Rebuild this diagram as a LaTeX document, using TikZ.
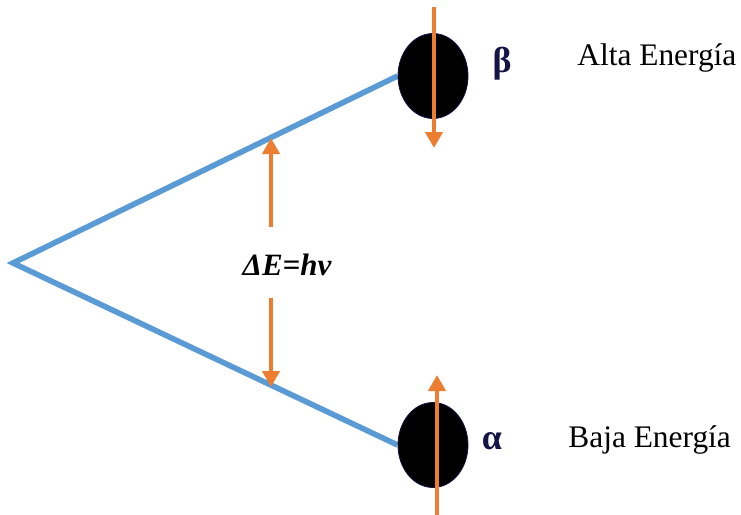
\documentclass[tikz,border=0pt]{standalone}
\usepackage{fontspec}
\setmainfont{Liberation Serif}
\usetikzlibrary{arrows.meta,shapes.geometric,backgrounds}
\definecolor{bond}{RGB}{91,155,213}
\definecolor{spin}{RGB}{237,125,49}
\definecolor{ink}{RGB}{20,20,70}

\begin{document}
\begin{tikzpicture}[x=0.5pt,y=-0.5pt,
    orb/.style={ellipse,draw=ink,fill=black,minimum width=35pt,minimum height=42.5pt,inner sep=0pt},
    spinarrow/.style={spin,line width=2pt,-{Triangle[width=8.5pt,length=8pt]}},
    greek/.style={text=ink,font=\bfseries\fontsize{18}{20}\selectfont}]
  \useasboundingbox (0,0) rectangle (741,515);
  \coordinate (v) at (13,263);
  \node[orb] (beta) at (433,76) {};
  \node[orb] (alpha) at (433,445) {};
  \begin{scope}[on background layer]
    \draw[bond,line width=2.8pt] (beta.west) -- (v) -- (alpha.west);
  \end{scope}
  % spins
  \coordinate (bs) at (434,7);
  \coordinate (be) at (434,148);
  \coordinate (as) at (437,515);
  \coordinate (ae) at (437,375);
  \draw[spinarrow] (bs) -- (be);
  \draw[spinarrow] (as) -- (ae);
  \node[greek] (b) at (502,64) {β};
  \node[greek] (a) at (492,441) {α};
  % energy gap
  \node[font=\bfseries\itshape\fontsize{15.5}{17}\selectfont] (de) at (287,265) {ΔE=hν};
  \coordinate (up1) at (271,227);
  \coordinate (up2) at (271,138);
  \coordinate (dn1) at (271,298);
  \coordinate (dn2) at (271,387);
  \draw[spinarrow] (up1) -- (up2);
  \draw[spinarrow] (dn1) -- (dn2);
  \node[anchor=base west,inner sep=0pt,font=\fontsize{15.7}{18}\selectfont] (hi) at (577,65) {Alta Energía};
  \node[anchor=base west,inner sep=0pt,font=\fontsize{15.7}{18}\selectfont] (lo) at (568,447) {Baja Energía};
\end{tikzpicture}
\end{document}
